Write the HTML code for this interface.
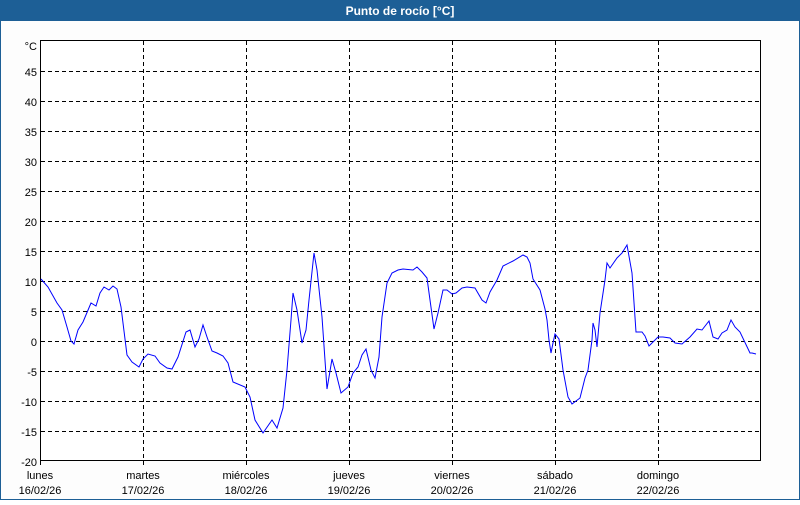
<!DOCTYPE html>
<html><head><meta charset="utf-8"><style>
html,body{margin:0;padding:0}
body{width:800px;height:500px;overflow:hidden;background:#fff;font-family:"Liberation Sans",sans-serif}
</style></head><body>
<svg width="800" height="500" xmlns="http://www.w3.org/2000/svg" font-family="Liberation Sans, sans-serif">
<rect x="0" y="0" width="800" height="500" fill="#fdfdfd" stroke="#1d5f96" stroke-width="2"/>
<rect x="0" y="0" width="800" height="21" fill="#1d5f96"/>
<text x="400" y="15" fill="#fff" font-size="12" font-weight="bold" text-anchor="middle">Punto de rocío [°C]</text>
<rect x="40.5" y="40.5" width="720" height="420" fill="#fff"/>
<g stroke="#000" stroke-dasharray="4,3" stroke-width="1">
<line x1="41" y1="71.5" x2="760" y2="71.5"/><line x1="41" y1="101.5" x2="760" y2="101.5"/>
<line x1="41" y1="131.5" x2="760" y2="131.5"/><line x1="41" y1="161.5" x2="760" y2="161.5"/>
<line x1="41" y1="191.5" x2="760" y2="191.5"/><line x1="41" y1="221.5" x2="760" y2="221.5"/>
<line x1="41" y1="251.5" x2="760" y2="251.5"/><line x1="41" y1="281.5" x2="760" y2="281.5"/>
<line x1="41" y1="311.5" x2="760" y2="311.5"/><line x1="41" y1="341.5" x2="760" y2="341.5"/>
<line x1="41" y1="371.5" x2="760" y2="371.5"/><line x1="41" y1="401.5" x2="760" y2="401.5"/>
<line x1="41" y1="431.5" x2="760" y2="431.5"/>
<line x1="143.5" y1="41" x2="143.5" y2="460"/><line x1="246.5" y1="41" x2="246.5" y2="460"/>
<line x1="349.5" y1="41" x2="349.5" y2="460"/><line x1="452.5" y1="41" x2="452.5" y2="460"/>
<line x1="555.5" y1="41" x2="555.5" y2="460"/><line x1="658.5" y1="41" x2="658.5" y2="460"/>
</g>
<rect x="40.5" y="40.5" width="720" height="420" fill="none" stroke="#000"/>
<g stroke="#000"><line x1="143.5" y1="461" x2="143.5" y2="465"/><line x1="246.5" y1="461" x2="246.5" y2="465"/><line x1="349.5" y1="461" x2="349.5" y2="465"/><line x1="452.5" y1="461" x2="452.5" y2="465"/><line x1="555.5" y1="461" x2="555.5" y2="465"/><line x1="658.5" y1="461" x2="658.5" y2="465"/><line x1="40.5" y1="461" x2="40.5" y2="465"/></g>
<g font-size="11" fill="#000" text-anchor="end">
<text x="37" y="50">°C</text>
<text x="37" y="76">45</text><text x="37" y="106">40</text><text x="37" y="136">35</text>
<text x="37" y="166">30</text><text x="37" y="196">25</text><text x="37" y="226">20</text>
<text x="37" y="256">15</text><text x="37" y="286">10</text><text x="37" y="316">5</text>
<text x="37" y="346">0</text><text x="37" y="376">-5</text><text x="37" y="406">-10</text>
<text x="37" y="436">-15</text><text x="37" y="466">-20</text>
</g>
<g font-size="11" fill="#000" text-anchor="middle">
<text x="40" y="479">lunes</text><text x="40" y="494">16/02/26</text>
<text x="143" y="479">martes</text><text x="143" y="494">17/02/26</text>
<text x="246" y="479">miércoles</text><text x="246" y="494">18/02/26</text>
<text x="349" y="479">jueves</text><text x="349" y="494">19/02/26</text>
<text x="452" y="479">viernes</text><text x="452" y="494">20/02/26</text>
<text x="555" y="479">sábado</text><text x="555" y="494">21/02/26</text>
<text x="658" y="479">domingo</text><text x="658" y="494">22/02/26</text>
</g>
<polyline fill="none" stroke="#0000ff" stroke-width="1" points="41,279 48,287 57,303 62,310 67,327 71,341 74,344 78,330 83,322 91,303 96,306 100,293 104,287 109,290 113,286 117,289 121,307 127,355 132,362 139,367 143,359 148,354 155,356 160,363 167,368 172,369 178,357 186,332 190,330 195,347 199,339 203,325 207,337 212,351 217,353 223,356 228,363 233,382 245,387 250,397 255,420 263,433 272,420 277,428 283,408 287,370 291,320 293,293 297,310 302,343 306,330 309,300 314,253 317,270 322,317 327,389 332,359 336,373 341,393 348,387 353,373 358,367 362,355 366,349 371,370 375,378 379,357 382,317 387,283 392,273 398,270 403,269 413,270 417,267 422,272 427,278 430,300 434,329 438,313 443,290 447,290 452,294 456,293 462,288 467,287 475,288 482,300 486,303 490,292 497,280 503,266 513,261 523,255 527,257 530,263 533,279 540,290 545,309 547,320 549,340 551,353 553,343 555,334 559,339 563,370 568,397 572,404 580,398 585,378 588,370 592,340 593,323 595,330 597,347 600,313 605,280 607,263 610,268 617,258 622,253 627,245 632,273 636,332 642,332 645,336 649,346 658,337 663,337 670,338 675,343 682,344 690,337 697,329 702,330 709,321 713,337 718,339 722,333 727,330 731,320 735,327 740,332 750,353 752,353 756,354"/>
</svg>
</body></html>
